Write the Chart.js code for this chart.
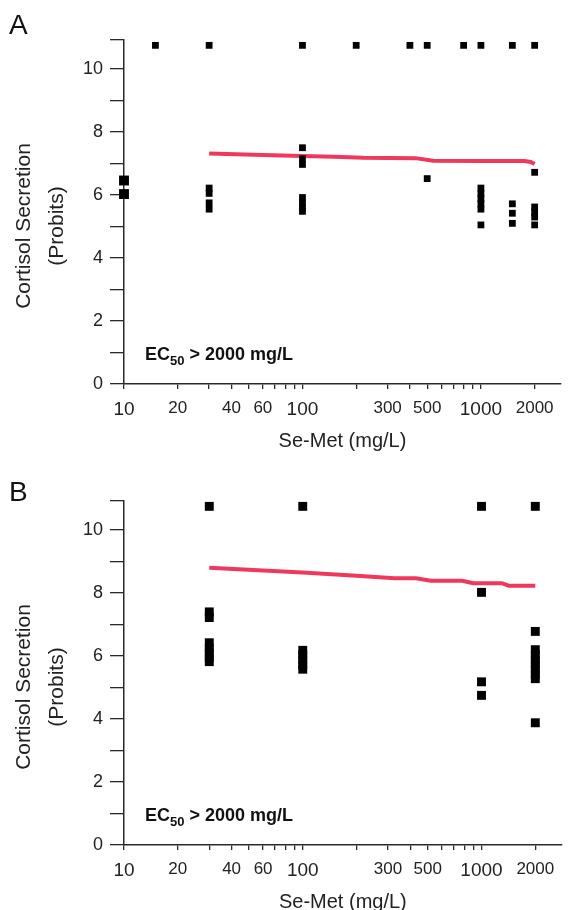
<!DOCTYPE html>
<html><head><meta charset="utf-8">
<script src="https://cdn.jsdelivr.net/npm/chart.js@4.4.1/dist/chart.umd.min.js"></script>
<style>
html,body{margin:0;padding:0;background:#fff;overflow:hidden;}
body{width:568px;height:910px;position:relative;font-family:"Liberation Sans",Arial,sans-serif;}
.panel{position:absolute;left:0;width:568px;height:460px;}
.panel canvas{position:absolute;left:0;top:0;}
.letter{position:absolute;left:9px;font-size:28px;line-height:28px;color:#111;}
.ytitle{position:absolute;font-size:21px;line-height:24px;white-space:nowrap;color:#222;transform:translate(-50%,-50%) rotate(-90deg);}
.ec{position:absolute;left:145px;font-size:18px;font-weight:bold;line-height:20px;white-space:nowrap;color:#111;}
.ec sub{font-size:13px;vertical-align:baseline;position:relative;top:5px;}
</style></head>
<body>
<div class="panel" id="panelA" style="top:0">
  <canvas id="chartA" width="568" height="460"></canvas>
  <div class="letter" style="top:11px">A</div>
  <div class="ytitle" style="left:23px;top:226px">Cortisol Secretion</div>
  <div class="ytitle" style="left:56px;top:226px">(Probits)</div>
  <div class="ec" style="top:344px">EC<sub>50</sub> &gt; 2000 mg/L</div>
</div>
<div class="panel" id="panelB" style="top:461px">
  <canvas id="chartB" width="568" height="460"></canvas>
  <div class="letter" style="top:17px">B</div>
  <div class="ytitle" style="left:23px;top:226px">Cortisol Secretion</div>
  <div class="ytitle" style="left:56px;top:226px">(Probits)</div>
  <div class="ec" style="top:344px">EC<sub>50</sub> &gt; 2000 mg/L</div>
</div>
<script>
// ---- Data ----
// Panel A: control (plotted at 10 mg/L)
const controlA_x = [10, 10];
const controlA_y = [6.46, 6.03];
// Panel A: treated observations
const obsA_x = [15,
  30, 30, 30, 30, 30,
  100, 100, 100, 100, 100, 100, 100, 100,
  200,
  400,
  500, 500,
  800,
  1000, 1000, 1000, 1000, 1000, 1000, 1000,
  1500, 1500, 1500, 1500,
  2000, 2000, 2000, 2000, 2000, 2000];
const obsA_y = [10.75,
  10.75, 6.22, 6.05, 5.75, 5.55,
  10.75, 7.5, 7.15, 6.97, 5.92, 5.75, 5.6, 5.48,
  10.75,
  10.75,
  10.75, 6.52,
  10.75,
  10.75, 6.22, 6.05, 5.88, 5.72, 5.55, 5.05,
  10.75, 5.72, 5.42, 5.1,
  10.75, 6.72, 5.62, 5.45, 5.3, 5.05];
// Panel A: fitted probit curve
const fitA_x = [30, 60, 100, 150, 220, 430, 540, 1000, 1750, 1900, 2000];
const fitA_y = [7.32, 7.27, 7.24, 7.21, 7.18, 7.17, 7.09, 7.08, 7.08, 7.05, 6.98];

// Panel B: treated observations
const obsB_x = [30, 30, 30, 30, 30, 30, 30, 30,
  100, 100, 100, 100, 100, 100,
  1000, 1000, 1000, 1000,
  2000, 2000, 2000, 2000, 2000, 2000, 2000, 2000, 2000, 2000];
const obsB_y = [10.75, 7.4, 7.22, 6.42, 6.25, 6.1, 5.95, 5.82,
  10.75, 6.18, 6.03, 5.88, 5.72, 5.58,
  10.75, 8.02, 5.18, 4.75,
  10.75, 6.78, 6.2, 6.03, 5.88, 5.72, 5.58, 5.42, 5.28, 3.88];
// Panel B: fitted probit curve
const fitB_x = [30, 100, 200, 326, 430, 520, 780, 900, 1300, 1420, 2000];
const fitB_y = [8.8, 8.65, 8.55, 8.47, 8.47, 8.39, 8.39, 8.31, 8.31, 8.23, 8.23];

// Axes
const xMin = 10, xMax = 2810;
const yMin = 0, yMax = 10.92;
const xTickValues = [10,20,30,40,50,60,70,80,90,100,200,300,400,500,600,700,800,900,1000,2000];
const xTickLabels = ['10','20','','40','','60','','','','100','','300','','500','','','','','1000','2000'];
const xBigLabels = [10, 100, 1000];
const yTickValues = [0,1,2,3,4,5,6,7,8,9,10,10.92];
const yTickLabels = ['0','','2','','4','','6','','8','','10',''];

const xTitle = 'Se-Met (mg/L)';
const FONT = "'Liberation Sans', Arial, sans-serif";
const RED = '#EF385D';
const AXIS = '#2a2a2a';

function pts(xs, ys){ return xs.map((x,i)=>({x:x, y:ys[i]})); }

function options(){
  return {
    responsive:false, animation:false, devicePixelRatio:1,
    layout:{padding:{top:40,right:0,left:0,bottom:0}},
    plugins:{legend:{display:false},tooltip:{enabled:false}},
    scales:{
      x:{type:'logarithmic', min:xMin, max:xMax,
        afterFit:s=>{s.height=76;},
        afterBuildTicks:s=>{s.ticks=xTickValues.map(v=>({value:v}));},
        grid:{drawOnChartArea:false, drawTicks:true, tickLength:5, color:AXIS, lineWidth:1.3},
        border:{display:true, color:AXIS, width:1.5},
        ticks:{autoSkip:false, maxRotation:0, minRotation:0, padding:9, color:'#222',
          callback:(v,i)=>xTickLabels[i],
          font:c=>({family:FONT, size:(c.tick && xBigLabels.includes(c.tick.value))?19:17})},
        title:{display:true, text:xTitle, color:'#222', font:{family:FONT,size:20}, padding:{top:0,bottom:7}}
      },
      y:{type:'linear', min:yMin, max:yMax,
        afterFit:s=>{s.width=124;},
        afterBuildTicks:s=>{s.ticks=yTickValues.map(v=>({value:v}));},
        grid:{drawOnChartArea:false, drawTicks:true, tickLength:14, color:AXIS, lineWidth:1.3},
        border:{display:true, color:AXIS, width:1.5},
        ticks:{padding:7, color:'#222', callback:(v,i)=>yTickLabels[i], font:{family:FONT,size:18}}
      }
    }
  };
}

function pointSet(data, r){
  return {type:'scatter', data:data, pointStyle:'rect', pointRadius:r, pointHoverRadius:r,
    backgroundColor:'#000', borderWidth:0, showLine:false, clip:false, order:0};
}
function fitSet(data){
  return {type:'line', data:data, borderColor:RED, borderWidth:4, pointRadius:0,
    tension:0, fill:false, clip:false, order:1, borderCapStyle:'butt'};
}

new Chart(document.getElementById('chartA'), {
  type:'scatter',
  data:{datasets:[
    pointSet(pts(controlA_x, controlA_y), 7),
    pointSet(pts(obsA_x, obsA_y), 4.8),
    fitSet(pts(fitA_x, fitA_y))
  ]},
  options:options()
});
new Chart(document.getElementById('chartB'), {
  type:'scatter',
  data:{datasets:[
    pointSet(pts(obsB_x, obsB_y), 6.3),
    fitSet(pts(fitB_x, fitB_y))
  ]},
  options:options()
});
</script>
</body></html>
